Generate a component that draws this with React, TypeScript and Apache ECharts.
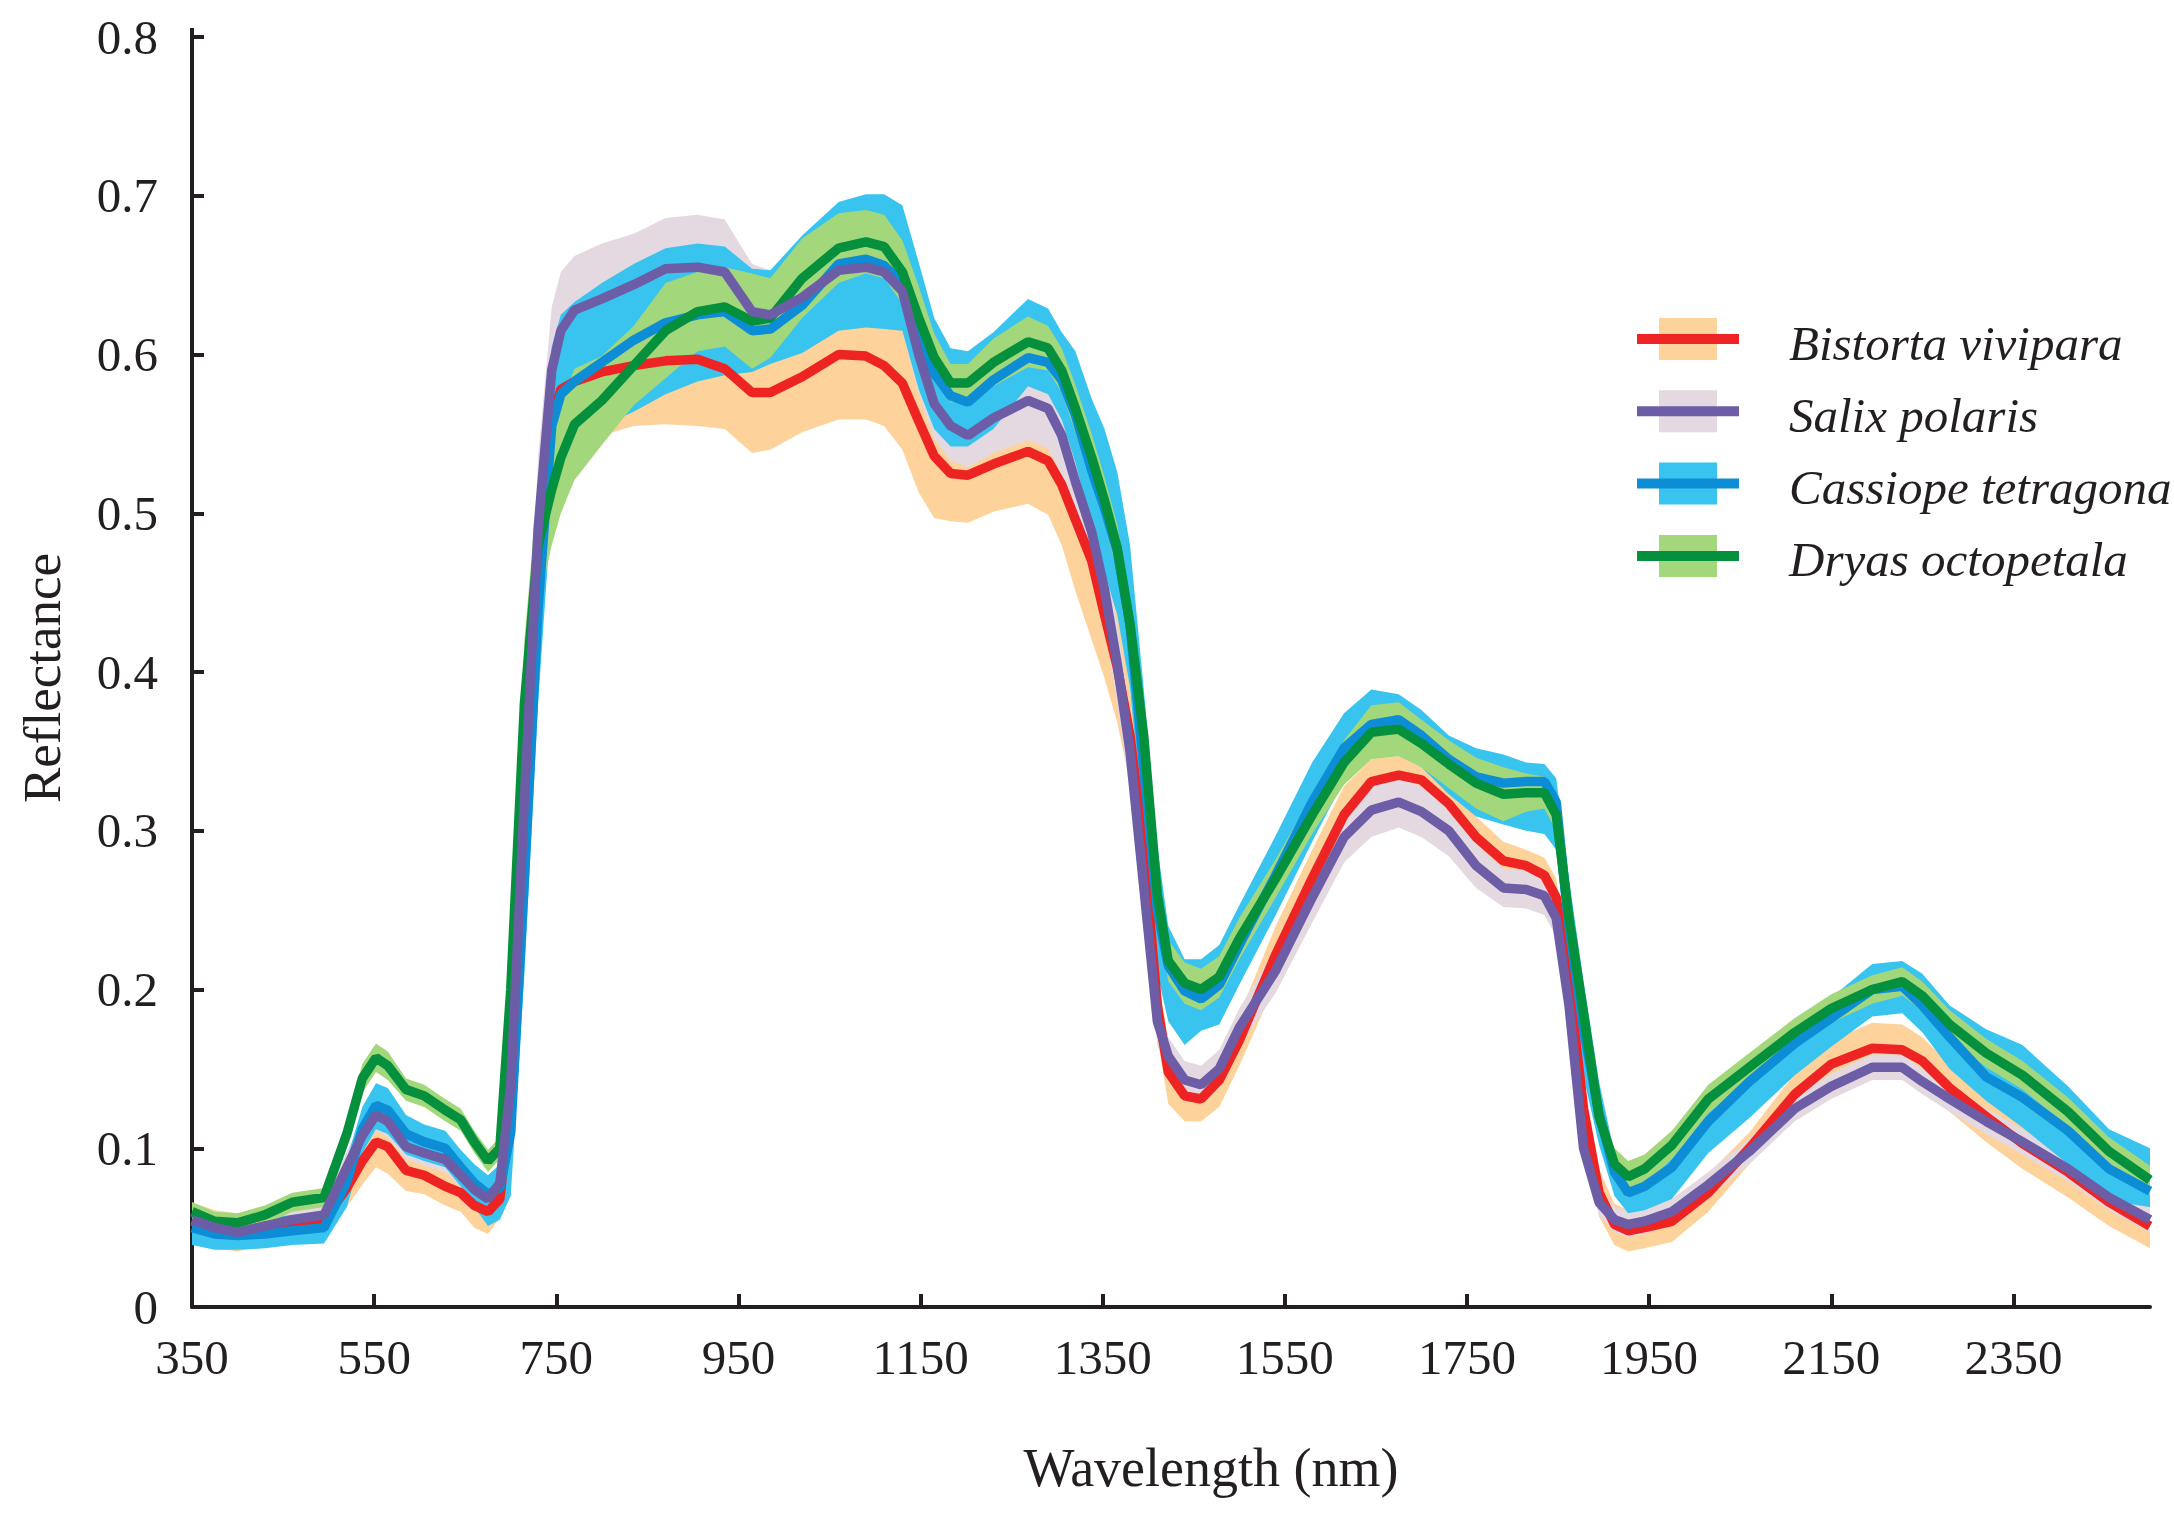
import React, { useEffect, useRef } from "react";
import * as echarts from "echarts";

const wavelengths = [350, 375, 400, 430, 460, 495, 520, 537, 552, 565, 585, 605, 628, 645, 660, 675, 688, 700, 715, 730, 745, 755, 770, 800, 835, 870, 905, 935, 965, 985, 1020, 1060, 1090, 1110, 1130, 1148, 1165, 1183, 1202, 1230, 1268, 1290, 1305, 1320, 1338, 1352, 1366, 1380, 1395, 1410, 1422, 1440, 1458, 1478, 1500, 1540, 1580, 1615, 1645, 1675, 1700, 1730, 1760, 1790, 1815, 1835, 1848, 1862, 1878, 1895, 1912, 1927, 1945, 1975, 2015, 2060, 2110, 2150, 2195, 2228, 2250, 2280, 2320, 2360, 2410, 2455, 2500];

const bistortaMean = [0.054, 0.049, 0.047, 0.051, 0.053, 0.055, 0.075, 0.092, 0.104, 0.101, 0.086, 0.083, 0.076, 0.072, 0.064, 0.060, 0.068, 0.13, 0.30, 0.46, 0.56, 0.578, 0.583, 0.589, 0.593, 0.596, 0.597, 0.591, 0.576, 0.576, 0.586, 0.600, 0.599, 0.593, 0.582, 0.558, 0.536, 0.525, 0.524, 0.531, 0.539, 0.533, 0.518, 0.496, 0.470, 0.436, 0.403, 0.36, 0.29, 0.19, 0.148, 0.133, 0.131, 0.143, 0.168, 0.222, 0.270, 0.310, 0.331, 0.335, 0.332, 0.317, 0.296, 0.281, 0.278, 0.272, 0.258, 0.205, 0.125, 0.072, 0.052, 0.048, 0.050, 0.054, 0.072, 0.100, 0.134, 0.153, 0.163, 0.162, 0.155, 0.138, 0.120, 0.103, 0.085, 0.066, 0.051];
const bistortaSd = [0.012, 0.012, 0.012, 0.012, 0.012, 0.012, 0.012, 0.015, 0.016, 0.017, 0.013, 0.012, 0.012, 0.012, 0.014, 0.014, 0.012, 0.02, 0.04, 0.05, 0.04, 0.035, 0.033, 0.04, 0.038, 0.04, 0.042, 0.038, 0.038, 0.036, 0.035, 0.041, 0.04, 0.038, 0.042, 0.045, 0.039, 0.03, 0.03, 0.03, 0.033, 0.034, 0.038, 0.045, 0.05, 0.04, 0.035, 0.03, 0.025, 0.02, 0.02, 0.016, 0.014, 0.017, 0.016, 0.018, 0.018, 0.018, 0.014, 0.012, 0.014, 0.014, 0.013, 0.012, 0.01, 0.011, 0.012, 0.015, 0.015, 0.015, 0.013, 0.013, 0.013, 0.013, 0.012, 0.01, 0.013, 0.015, 0.016, 0.016, 0.015, 0.015, 0.016, 0.016, 0.016, 0.015, 0.014];

const salixMean = [0.055, 0.050, 0.047, 0.051, 0.055, 0.058, 0.088, 0.108, 0.121, 0.117, 0.101, 0.097, 0.093, 0.083, 0.074, 0.068, 0.078, 0.14, 0.32, 0.49, 0.59, 0.615, 0.628, 0.635, 0.644, 0.654, 0.655, 0.652, 0.627, 0.625, 0.636, 0.653, 0.655, 0.652, 0.640, 0.600, 0.569, 0.555, 0.549, 0.560, 0.571, 0.566, 0.549, 0.520, 0.488, 0.452, 0.405, 0.35, 0.265, 0.18, 0.158, 0.143, 0.140, 0.150, 0.176, 0.212, 0.258, 0.296, 0.313, 0.318, 0.312, 0.300, 0.278, 0.264, 0.263, 0.259, 0.245, 0.190, 0.10, 0.066, 0.055, 0.052, 0.054, 0.060, 0.077, 0.098, 0.125, 0.139, 0.151, 0.151, 0.142, 0.131, 0.117, 0.104, 0.087, 0.069, 0.055];
const salixSd = [0.008, 0.008, 0.008, 0.008, 0.008, 0.008, 0.010, 0.010, 0.010, 0.010, 0.008, 0.008, 0.008, 0.008, 0.008, 0.008, 0.008, 0.02, 0.04, 0.045, 0.04, 0.037, 0.034, 0.035, 0.032, 0.032, 0.033, 0.033, 0.03, 0.028, 0.025, 0.025, 0.025, 0.025, 0.025, 0.025, 0.022, 0.022, 0.02, 0.022, 0.025, 0.025, 0.025, 0.025, 0.025, 0.025, 0.025, 0.025, 0.02, 0.015, 0.012, 0.012, 0.012, 0.012, 0.012, 0.014, 0.016, 0.016, 0.017, 0.016, 0.016, 0.016, 0.014, 0.012, 0.012, 0.012, 0.012, 0.012, 0.01, 0.008, 0.008, 0.008, 0.008, 0.008, 0.008, 0.008, 0.008, 0.008, 0.008, 0.008, 0.008, 0.008, 0.008, 0.008, 0.008, 0.008, 0.008];

const cassiopeMean = [0.050, 0.046, 0.045, 0.046, 0.048, 0.050, 0.079, 0.112, 0.127, 0.124, 0.109, 0.104, 0.100, 0.088, 0.078, 0.071, 0.075, 0.11, 0.27, 0.44, 0.555, 0.575, 0.583, 0.595, 0.609, 0.620, 0.625, 0.627, 0.615, 0.616, 0.631, 0.657, 0.660, 0.656, 0.645, 0.613, 0.588, 0.574, 0.570, 0.584, 0.598, 0.595, 0.584, 0.562, 0.527, 0.503, 0.476, 0.43, 0.34, 0.25, 0.215, 0.199, 0.194, 0.203, 0.228, 0.272, 0.318, 0.352, 0.367, 0.370, 0.360, 0.345, 0.334, 0.330, 0.331, 0.331, 0.318, 0.24, 0.175, 0.122, 0.085, 0.072, 0.076, 0.088, 0.117, 0.142, 0.166, 0.182, 0.200, 0.202, 0.190, 0.170, 0.145, 0.132, 0.111, 0.087, 0.073];
const cassiopeSdLow = [0.011, 0.010, 0.009, 0.009, 0.009, 0.010, 0.016, 0.015, 0.015, 0.015, 0.013, 0.012, 0.012, 0.012, 0.015, 0.020, 0.020, 0.04, 0.06, 0.06, 0.05, 0.045, 0.04, 0.04, 0.045, 0.045, 0.042, 0.04, 0.026, 0.022, 0.03, 0.042, 0.043, 0.04, 0.03, 0.035, 0.035, 0.032, 0.028, 0.031, 0.018, 0.02, 0.025, 0.03, 0.035, 0.04, 0.04, 0.04, 0.04, 0.04, 0.035, 0.034, 0.02, 0.025, 0.025, 0.025, 0.025, 0.02, 0.018, 0.02, 0.02, 0.022, 0.025, 0.026, 0.031, 0.033, 0.03, 0.03, 0.03, 0.02, 0.015, 0.013, 0.015, 0.02, 0.02, 0.023, 0.02, 0.018, 0.017, 0.017, 0.017, 0.02, 0.015, 0.019, 0.021, 0.02, 0.01];
const cassiopeSdHigh = [0.010, 0.010, 0.010, 0.010, 0.010, 0.010, 0.014, 0.014, 0.014, 0.014, 0.012, 0.011, 0.011, 0.011, 0.012, 0.012, 0.015, 0.03, 0.05, 0.05, 0.05, 0.05, 0.05, 0.05, 0.048, 0.047, 0.045, 0.041, 0.039, 0.037, 0.044, 0.039, 0.041, 0.045, 0.049, 0.045, 0.035, 0.03, 0.032, 0.03, 0.037, 0.034, 0.03, 0.04, 0.045, 0.05, 0.05, 0.05, 0.05, 0.04, 0.025, 0.02, 0.025, 0.025, 0.025, 0.025, 0.025, 0.022, 0.022, 0.016, 0.016, 0.015, 0.018, 0.018, 0.012, 0.011, 0.015, 0.03, 0.03, 0.02, 0.012, 0.012, 0.01, 0.01, 0.01, 0.012, 0.012, 0.013, 0.016, 0.016, 0.02, 0.02, 0.03, 0.033, 0.028, 0.025, 0.027];

const dryasMean = [0.060, 0.054, 0.053, 0.058, 0.066, 0.069, 0.109, 0.144, 0.157, 0.152, 0.137, 0.133, 0.124, 0.118, 0.104, 0.092, 0.10, 0.20, 0.38, 0.48, 0.515, 0.535, 0.556, 0.571, 0.593, 0.615, 0.627, 0.630, 0.621, 0.623, 0.648, 0.667, 0.671, 0.668, 0.652, 0.623, 0.598, 0.582, 0.582, 0.595, 0.608, 0.604, 0.590, 0.566, 0.535, 0.508, 0.478, 0.43, 0.36, 0.26, 0.218, 0.204, 0.200, 0.208, 0.232, 0.27, 0.31, 0.343, 0.362, 0.364, 0.355, 0.342, 0.330, 0.323, 0.324, 0.324, 0.31, 0.245, 0.185, 0.12, 0.09, 0.082, 0.087, 0.102, 0.131, 0.151, 0.173, 0.188, 0.200, 0.205, 0.196, 0.178, 0.160, 0.146, 0.123, 0.098, 0.080];
const dryasSd = [0.006, 0.006, 0.006, 0.006, 0.006, 0.006, 0.009, 0.009, 0.009, 0.009, 0.007, 0.007, 0.007, 0.007, 0.007, 0.007, 0.007, 0.02, 0.04, 0.04, 0.035, 0.035, 0.035, 0.028, 0.025, 0.03, 0.025, 0.025, 0.03, 0.025, 0.025, 0.022, 0.02, 0.02, 0.02, 0.02, 0.015, 0.012, 0.012, 0.015, 0.016, 0.014, 0.014, 0.015, 0.015, 0.015, 0.015, 0.015, 0.015, 0.012, 0.013, 0.013, 0.013, 0.013, 0.013, 0.012, 0.012, 0.014, 0.017, 0.017, 0.015, 0.015, 0.016, 0.017, 0.012, 0.01, 0.01, 0.01, 0.01, 0.01, 0.01, 0.01, 0.009, 0.009, 0.009, 0.009, 0.009, 0.009, 0.009, 0.009, 0.009, 0.009, 0.009, 0.009, 0.009, 0.009, 0.009];

const xTickValues = [350, 550, 750, 950, 1150, 1350, 1550, 1750, 1950, 2150, 2350];
const speciesNames = ["Bistorta vivipara", "Salix polaris", "Cassiope tetragona", "Dryas octopetala"];

const FONT = "'Liberation Serif', 'DejaVu Serif', serif";
const AXIS_COLOR = "#231f20";

type Species = {
  name: string;
  mean: number[];
  sdLow: number[];
  sdHigh: number[];
  line: string;
  band: string;
};

const species: Species[] = [
  { name: speciesNames[0], mean: bistortaMean, sdLow: bistortaSd, sdHigh: bistortaSd, line: "#ee2424", band: "#fdd39b" },
  { name: speciesNames[1], mean: salixMean, sdLow: salixSd, sdHigh: salixSd, line: "#6c5da6", band: "#e4d8e1" },
  { name: speciesNames[2], mean: cassiopeMean, sdLow: cassiopeSdLow, sdHigh: cassiopeSdHigh, line: "#0c8dd6", band: "#38c4ef" },
  { name: speciesNames[3], mean: dryasMean, sdLow: dryasSd, sdHigh: dryasSd, line: "#05903d", band: "#a3d77b" },
];

function buildOption() {
  const series: any[] = [];
  species.forEach((s) => {
    const lo = s.mean.map((m, k) => m - s.sdLow[k]);
    const hi = s.mean.map((m, k) => m + s.sdHigh[k]);
    series.push({
      type: "custom",
      name: s.name + " band",
      coordinateSystem: "cartesian2d",
      data: wavelengths.map((w, k) => [w, lo[k], hi[k]]),
      encode: { x: 0, y: [1, 2] },
      silent: true,
      z: 1,
      renderItem: (params: any, api: any) => {
        if (params.dataIndex !== 0) return null;
        const upper = wavelengths.map((w, k) => api.coord([w, hi[k]]));
        const lower = wavelengths.map((w, k) => api.coord([w, lo[k]])).reverse();
        return {
          type: "polygon",
          shape: { points: upper.concat(lower) },
          style: { fill: s.band, stroke: "none" },
        };
      },
    });
  });
  const lineOrder = [0, 2, 3, 1];
  lineOrder.forEach((i) => {
    const s = species[i];
    series.push({
      type: "line",
      name: s.name,
      data: wavelengths.map((w, k) => [w, s.mean[k]]),
      symbol: "none",
      showSymbol: false,
      lineStyle: { color: s.line, width: 9.5 },
      z: 3,
    });
  });

  const legendTop = 339;
  const legendStep = 72.3;
  const graphic: any[] = [];
  species.forEach((s, i) => {
    const cy = legendTop + i * legendStep;
    graphic.push({
      type: "rect",
      shape: { x: 1659, y: cy - 21, width: 58, height: 42 },
      style: { fill: s.band },
      z: 10,
    });
    graphic.push({
      type: "line",
      shape: { x1: 1637, y1: cy, x2: 1739, y2: cy },
      style: { stroke: s.line, lineWidth: 10 },
      z: 11,
    });
    graphic.push({
      type: "text",
      x: 1789,
      y: cy + 4,
      style: {
        text: s.name,
        font: "italic 49px " + FONT,
        fill: "#231f20",
        align: "left",
        verticalAlign: "middle",
        textAlign: "left",
        textVerticalAlign: "middle",
      },
      z: 11,
    });
  });
  graphic.push({
    type: "line",
    shape: { x1: 192, y1: 28, x2: 192, y2: 38 },
    style: { stroke: AXIS_COLOR, lineWidth: 4 },
  });
  graphic.push({
    type: "text",
    x: 42,
    y: 678,
    rotation: Math.PI / 2,
    style: {
      text: "Reflectance",
      font: "53px " + FONT,
      fill: "#231f20",
      align: "center",
      verticalAlign: "middle",
      textAlign: "center",
      textVerticalAlign: "middle",
    },
  });
  graphic.push({
    type: "text",
    x: 1211,
    y: 1468,
    style: {
      text: "Wavelength (nm)",
      font: "54px " + FONT,
      fill: "#231f20",
      align: "center",
      verticalAlign: "middle",
      textAlign: "center",
      textVerticalAlign: "middle",
    },
  });

  return {
    animation: false,
    backgroundColor: "#ffffff",
    grid: { left: 192, right: 24, top: 37, bottom: 207, containLabel: false },
    xAxis: {
      type: "value",
      min: 350,
      max: 2500,
      axisLine: { show: true, onZero: false, lineStyle: { color: AXIS_COLOR, width: 4 } },
      axisTick: {
        show: true,
        inside: true,
        length: 13,
        customValues: xTickValues,
        lineStyle: { color: AXIS_COLOR, width: 4 },
      },
      axisLabel: {
        show: true,
        customValues: xTickValues,
        margin: 26,
        color: "#231f20",
        fontFamily: FONT,
        fontSize: 49,
        formatter: (v: number) => String(v),
      },
      splitLine: { show: false },
    },
    yAxis: {
      type: "value",
      min: 0,
      max: 0.8,
      interval: 0.1,
      axisLine: { show: true, lineStyle: { color: AXIS_COLOR, width: 4 } },
      axisTick: { show: true, inside: true, length: 12, lineStyle: { color: AXIS_COLOR, width: 4 } },
      axisLabel: {
        show: true,
        margin: 34,
        color: "#231f20",
        fontFamily: FONT,
        fontSize: 49,
        formatter: (v: number) => String(Math.round(v * 10) / 10),
      },
      splitLine: { show: false },
    },
    series,
    graphic,
  };
}

export default function App() {
  const ref = useRef<HTMLDivElement>(null);
  useEffect(() => {
    document.body.style.margin = "0";
    if (!ref.current) return;
    const chart = echarts.init(ref.current, undefined, { renderer: "svg" });
    chart.setOption(buildOption() as any);
    return () => chart.dispose();
  }, []);
  return <div ref={ref} style={{ width: 2174, height: 1514, background: "#fff" }} />;
}
